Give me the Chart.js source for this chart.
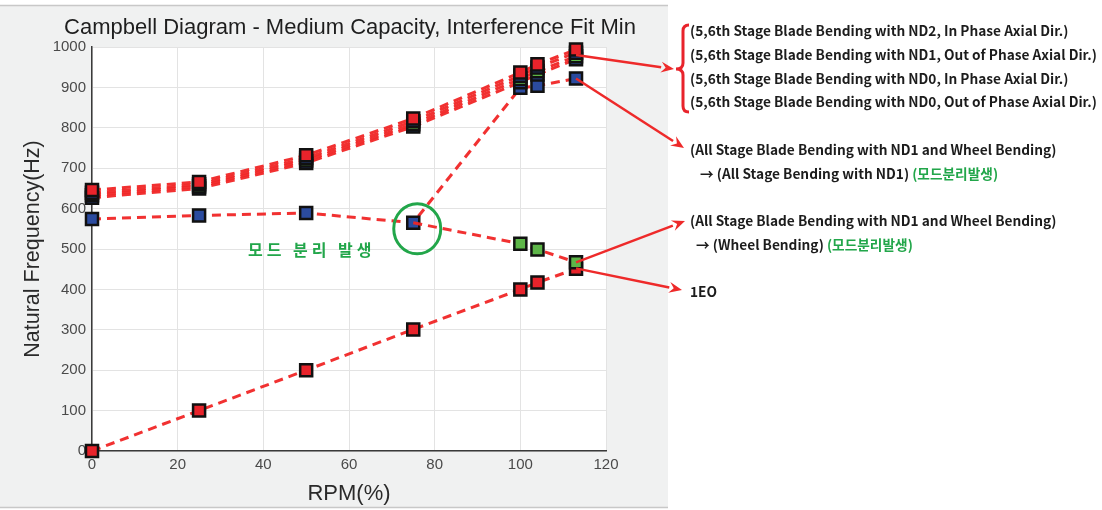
<!DOCTYPE html>
<html>
<head>
<meta charset="utf-8">
<script src="https://cdn.jsdelivr.net/npm/chart.js@4.4.1/dist/chart.umd.min.js"></script>
<style>
  html, body { margin: 0; padding: 0; background: #ffffff; }
  #wrap { width: 1102px; height: 510px; }
</style>
</head>
<body>
<div id="wrap"><canvas id="c" width="1102" height="510"></canvas></div>
<script>
// Rotor speed (% of rated) at which natural frequencies were computed
const rpm = [0, 25, 50, 75, 100, 104, 113];

// 5,6th stage blade bending family (four closely spaced modes)
const bladeND2In  = [646, 666, 732, 823, 937, 957, 994];
const bladeND1Out = [639, 660, 725, 816, 929, 949, 986];
const bladeND0In  = [633, 655, 719, 809, 921, 940, 977];
const bladeND0Out = [627, 650, 713, 803, 913, 932, 970];

// All-stage ND1 + wheel bending, separating above 75 %
const coupledRpm   = [0, 25, 50, 75, 100, 104, 113];
const coupledUpper = [574, 583, 589, 565, 899, 904, 922];
const splitRpm     = [75, 100, 104, 113];
const splitLower   = [565, 513, 499, 467];

// 1x engine order excitation line
const engineOrder1 = [0, 100, 200, 301, 400, 417, 451];

const xTicks = [0, 20, 40, 60, 80, 100, 120];
const yTicks = [0, 100, 200, 300, 400, 500, 600, 700, 800, 900, 1000];

const chartTitle = 'Campbell Diagram - Medium Capacity, Interference Fit Min';
const bladeNotes = [
  '(5,6th Stage Blade Bending with ND2, In Phase Axial Dir.)',
  '(5,6th Stage Blade Bending with ND1, Out of Phase Axial Dir.)',
  '(5,6th Stage Blade Bending with ND0, In Phase Axial Dir.)',
  '(5,6th Stage Blade Bending with ND0, Out of Phase Axial Dir.)'
];
const coupledNote = '(All Stage Blade Bending with ND1 and Wheel Bending)';
const upperNote = '→ (All Stage Bending with ND1) ';
const lowerNote = '→ (Wheel Bending) ';
const splitTag = '(모드분리발생)';
const splitLabel = '모드 분리 발생';
const eoLabel = '1EO';

const RED = '#e8232b';
const BLUE = '#2b4b9f';
const GREEN = '#5db548';
const LINE = 'rgba(240,38,38,0.95)';
const ANNOT_GREEN = '#22a64a';

function pts(xs, ys) { return xs.map((x, i) => ({ x: x, y: ys[i] })); }

function series(label, xs, ys, color, radii) {
  return {
    label: label,
    data: pts(xs, ys),
    borderColor: LINE,
    borderWidth: 3,
    borderDash: [9, 6],
    pointStyle: 'rect',
    pointRadius: radii || 8.5,
    pointHoverRadius: radii || 8.5,
    pointBackgroundColor: color,
    pointBorderColor: '#111111',
    pointBorderWidth: 2.5,
    showLine: true,
    fill: false,
    tension: 0,
    clip: false
  };
}

// first dataset is painted last (on top)
const datasets = [
  series('ND2 In Phase', rpm, bladeND2In, RED),
  series('ND1 Out of Phase', rpm, bladeND1Out, BLUE),
  series('ND0 In Phase', rpm, bladeND0In, GREEN),
  series('ND0 Out of Phase', rpm, bladeND0Out, BLUE),
  series('Wheel Bending', splitRpm, splitLower, GREEN, [0, 8.5, 8.5, 8.5]),
  series('All Stage ND1', coupledRpm, coupledUpper, BLUE),
  series('1EO', rpm, engineOrder1, RED)
];

function arrow(ctx, x1, y1, x2, y2) {
  const a = Math.atan2(y2 - y1, x2 - x1);
  const L = 13, W = 5.5;
  const bx = x2 - L * Math.cos(a), by = y2 - L * Math.sin(a);
  ctx.beginPath();
  ctx.moveTo(x1, y1);
  ctx.lineTo(bx, by);
  ctx.stroke();
  ctx.beginPath();
  ctx.moveTo(x2, y2);
  ctx.lineTo(bx + W * Math.sin(a), by - W * Math.cos(a));
  ctx.lineTo(bx + 0.35 * L * Math.cos(a), by + 0.35 * L * Math.sin(a));
  ctx.lineTo(bx - W * Math.sin(a), by + W * Math.cos(a));
  ctx.closePath();
  ctx.fill();
}

const decor = {
  id: 'decor',
  beforeDraw(chart) {
    const ctx = chart.ctx, ca = chart.chartArea;
    ctx.save();
    ctx.fillStyle = '#ffffff';
    ctx.fillRect(0, 0, chart.width, chart.height);
    ctx.fillStyle = '#f0f1f1';
    ctx.fillRect(0, 6, 668, 501);
    ctx.strokeStyle = '#c8c8c8';
    ctx.lineWidth = 1.5;
    ctx.beginPath();
    ctx.moveTo(0, 5.5); ctx.lineTo(668, 5.5);
    ctx.moveTo(0, 507.5); ctx.lineTo(668, 507.5);
    ctx.stroke();
    ctx.fillStyle = '#ffffff';
    ctx.fillRect(ca.left, ca.top, ca.right - ca.left, ca.bottom - ca.top);
    ctx.restore();
  },
  afterDraw(chart) {
    const ctx = chart.ctx, ca = chart.chartArea;
    const xs = chart.scales.x, ys = chart.scales.y;
    const px = v => xs.getPixelForValue(v);
    const py = v => ys.getPixelForValue(v);
    ctx.save();

    // title
    ctx.fillStyle = '#1e1e1e';
    ctx.font = '22px "Liberation Sans", Arial, sans-serif';
    ctx.textAlign = 'center';
    ctx.textBaseline = 'middle';
    ctx.fillText(chartTitle, (ca.left + ca.right) / 2 + 1, 28);

    // circle around the separation point
    const cx = px(75) + 4, cy = py(565) + 6;
    ctx.strokeStyle = ANNOT_GREEN;
    ctx.lineWidth = 3;
    ctx.beginPath();
    ctx.ellipse(cx, cy, 23.5, 25, 0, 0, Math.PI * 2);
    ctx.stroke();

    // in-plot label
    ctx.fillStyle = ANNOT_GREEN;
    ctx.font = 'bold 16px "Noto Sans CJK KR", sans-serif';
    if ('letterSpacing' in ctx) ctx.letterSpacing = '4px';
    ctx.textAlign = 'center';
    ctx.fillText(splitLabel, px(51.3), py(497));
    if ('letterSpacing' in ctx) ctx.letterSpacing = '0px';

    // arrows to the notes
    ctx.strokeStyle = '#ee2a2a';
    ctx.fillStyle = '#ee2a2a';
    ctx.lineWidth = 2.5;
    arrow(ctx, px(113), py(980), 674, 69);
    arrow(ctx, px(113), py(922), 684, 148);
    arrow(ctx, px(113), py(467), 685, 221);
    arrow(ctx, px(113), py(452), 682, 290);

    // bracket grouping the blade modes
    ctx.strokeStyle = '#e8232b';
    ctx.lineWidth = 3;
    ctx.beginPath();
    ctx.moveTo(689, 25);
    ctx.quadraticCurveTo(683, 25, 683, 31);
    ctx.lineTo(683, 63);
    ctx.quadraticCurveTo(683, 69, 676, 69);
    ctx.quadraticCurveTo(683, 69, 683, 75);
    ctx.lineTo(683, 106);
    ctx.quadraticCurveTo(683, 112, 689, 112);
    ctx.stroke();

    // notes
    ctx.textAlign = 'left';
    ctx.textBaseline = 'middle';
    ctx.font = 'bold 13.7px "Noto Sans CJK KR", sans-serif';
    ctx.fillStyle = '#1c1c1c';
    const noteY = [31, 55, 79, 102];
    bladeNotes.forEach((t, i) => ctx.fillText(t, 690, noteY[i]));

    ctx.fillText(coupledNote, 690, 150);
    ctx.fillText(upperNote, 700, 174);
    let w = ctx.measureText(upperNote).width;
    ctx.fillStyle = ANNOT_GREEN;
    ctx.fillText(splitTag, 700 + w, 174);

    ctx.fillStyle = '#1c1c1c';
    ctx.fillText(coupledNote, 690, 221);
    ctx.fillText(lowerNote, 696, 245);
    w = ctx.measureText(lowerNote).width;
    ctx.fillStyle = ANNOT_GREEN;
    ctx.fillText(splitTag, 696 + w, 245);

    ctx.fillStyle = '#1c1c1c';
    ctx.fillText(eoLabel, 690, 292);
    ctx.restore();
  }
};

const tickFont = { family: '"Liberation Sans", Arial, sans-serif', size: 15 };
const axisTitleFont = { family: '"Liberation Sans", Arial, sans-serif', size: 22 };

new Chart(document.getElementById('c'), {
  type: 'scatter',
  data: { datasets: datasets },
  options: {
    responsive: false,
    animation: false,
    events: [],
    layout: { padding: { left: 0, right: 496, top: 47, bottom: 0 } },
    plugins: {
      legend: { display: false },
      title: { display: false },
      tooltip: { enabled: false }
    },
    scales: {
      x: {
        type: 'linear',
        min: 0, max: 120,
        afterFit(s) { s.height = 59; },
        afterBuildTicks(s) { s.ticks = xTicks.map(v => ({ value: v })); },
        ticks: { font: tickFont, color: '#4a4a4a', padding: 5, callback: v => String(v) },
        grid: { color: '#e3e3e3', lineWidth: 1, drawTicks: false },
        border: { display: true, color: '#3a3a3a', width: 1.5 },
        title: { display: true, text: 'RPM(%)', font: axisTitleFont, color: '#2a2a2a', padding: { top: 0, bottom: 3 } }
      },
      y: {
        type: 'linear',
        min: 0, max: 1000,
        afterFit(s) { s.width = 92; },
        afterBuildTicks(s) { s.ticks = yTicks.map(v => ({ value: v })); },
        ticks: { font: tickFont, color: '#4a4a4a', padding: 6, callback: v => String(v) },
        grid: { color: '#e3e3e3', lineWidth: 1, drawTicks: false },
        border: { display: true, color: '#3a3a3a', width: 1.5 },
        title: { display: true, text: 'Natural Frequency(Hz)', font: { family: '"Liberation Sans", Arial, sans-serif', size: 21.5 }, color: '#2a2a2a', padding: { top: 20, bottom: 0 } }
      }
    }
  },
  plugins: [decor]
});
</script>
</body>
</html>
